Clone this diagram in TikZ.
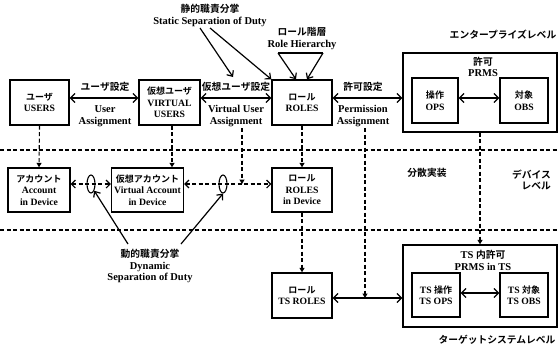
\documentclass[tikz,border=0pt]{standalone}
\usepackage{fontspec}
\setmainfont{Liberation Serif}
\newfontfamily\jpf{Noto Sans CJK JP}[BoldFont={* Bold},Scale=0.93]
\usetikzlibrary{arrows.meta,shapes.geometric,calc}
\newcommand{\J}[1]{{\jpf #1}}
\begin{document}
\begin{tikzpicture}[x=1pt,y=-1pt,
  box/.style={draw,line width=1.4pt,align=center,inner sep=1pt,font=\fontsize{9.7}{11.5}\selectfont\bfseries},
  lab/.style={align=center,inner sep=0pt,font=\fontsize{10.5}{11.5}\selectfont\bfseries},
  arr/.style={line width=1.2pt,{Straight Barb[length=4.5pt,width=9pt]}-{Straight Barb[length=4.5pt,width=9pt]}},
  sarr/.style={line width=1.2pt,-{Straight Barb[length=4.5pt,width=8pt]}},
  dline/.style={line width=1.1pt,dash pattern=on 4pt off 2.5pt},
  darr/.style={dline,-{Triangle[length=4.5pt,width=5pt]}},
  ddarr/.style={dline,{Straight Barb[length=4pt,width=8pt]}-{Straight Barb[length=4pt,width=8pt]}},
  oval/.style={draw,ellipse,line width=1.1pt,minimum width=8pt,minimum height=18pt,inner sep=0pt}]
\useasboundingbox (0,0) rectangle (559,349);

% level separators
\draw[dline] (0,150) -- (559,150);
\draw[dline] (0,230) -- (559,230);

% enterprise level
\node[box,minimum width=59pt,minimum height=45pt] (users) at (39.5,102.5) {\J{ユーザ}\\USERS};
\node[box,minimum width=61pt,minimum height=45pt] (vusers) at (169.5,102.5) {\J{仮想ユーザ}\\VIRTUAL\\USERS};
\node[box,minimum width=60pt,minimum height=45pt] (roles) at (302,102.5) {\J{ロール}\\ROLES};
\node[box,minimum width=154pt,minimum height=79pt] (prms) at (480,92.5) {};
\node[lab] (prmslab) at (483,67) {\J{許可}\\PRMS};
\node[box,minimum width=46pt,minimum height=45pt] (ops) at (435,100.5) {\J{操作}\\OPS};
\node[box,minimum width=48pt,minimum height=45pt] (obs) at (524,100.5) {\J{対象}\\OBS};

\draw[arr] ([yshift=4.5pt]users.east) -- ([yshift=4.5pt]vusers.west);
\draw[arr] ([yshift=4.5pt]vusers.east) -- ([yshift=4.5pt]roles.west);
\draw[arr] ([yshift=4.5pt]roles.east) -- ([yshift=-5.5pt]prms.west);
\draw[arr] ([yshift=2.5pt]ops.east) -- ([yshift=2.5pt]obs.west);

\node[lab] (ua) at (105,87) {\J{ユーザ設定}};
\node[lab] (uab) at (105,116) {User\\Assignment};
\node[lab] (va) at (236,87) {\J{仮想ユーザ設定}};
\node[lab] (vab) at (236,116) {Virtual User\\Assignment};
\node[lab] (pa) at (363,87) {\J{許可設定}};
\node[lab] (pab) at (363,116) {Permission\\Assignment};

% static SoD
\node[lab] (ssod) at (210,15.5) {\J{静的職責分掌}\\Static Separation of Duty};
\coordinate (s1) at (200,28);
\coordinate (s2) at (210,28);
\coordinate (s1e) at (233,77);
\draw[sarr] (s1) -- (s1e);
\draw[sarr] (s2) -- (roles.north west);

% role hierarchy
\node[lab] (rh) at (302,38.5) {\J{ロール階層}\\Role Hierarchy};
\coordinate (t1) at (278,53);
\coordinate (t2) at (323,53);
\draw[line width=1.2pt] (t1) -- (t2);
\draw[sarr] (t1) -- ([xshift=-6pt]roles.north);
\draw[sarr] (t2) -- ([xshift=5pt]roles.north);

\node[lab] (ent) at (503,35) {\J{エンタープライズレベル}};

% device level
\node[box,minimum width=62pt,minimum height=44pt] (acc) at (39,190) {\J{アカウント}\\Account\\in Device};
\node[box,minimum width=72pt,minimum height=44pt] (vacc) at (147.5,190) {\J{仮想アカウント}\\Virtual Account\\in Device};
\node[box,minimum width=60pt,minimum height=44pt] (rdev) at (302,190) {\J{ロール}\\ROLES\\in Device};

\draw[darr] (users.south) -- (acc.north);
\draw[darr] ([xshift=2.5pt]vusers.south) -- ([xshift=2.5pt]vusers.south |- vacc.north);
\draw[darr] (roles.south) -- (rdev.north);
\coordinate (vA) at (242,128);
\coordinate (vB) at (242,184);
\draw[darr] (vA) -- (vB);

\draw[ddarr] ([yshift=6pt]acc.east) -- ([yshift=6pt]vacc.west);
\draw[ddarr] ([yshift=6pt]vacc.east) -- ([yshift=6pt]rdev.west);
\node[oval] (e1) at (91,184) {};
\node[oval] (e2) at (223,184) {};

\node[lab] (dist) at (427,173) {\J{分散実装}};
\node[lab,anchor=east,align=right] (dev) at (551,180) {\J{デバイス}\\\J{レベル}};

% dynamic SoD
\node[lab] (dsod) at (150,266) {\J{動的職責分掌}\\Dynamic\\Separation of Duty};
\coordinate (d1) at (128,244);
\coordinate (d2) at (181,244);
\draw[sarr] (d1) -- (e1.south east);
\draw[sarr] (d2) -- (e2.south);

% target system level
\node[box,minimum width=60pt,minimum height=45pt] (tsroles) at (302,295.5) {\J{ロール}\\TS ROLES};
\node[box,minimum width=154pt,minimum height=82pt] (tsprms) at (480,286) {};
\node[lab] (tsprmslab) at (483,260.5) {TS \J{内許可}\\PRMS in TS};
\node[box,minimum width=48pt,minimum height=44pt] (tsops) at (436,295) {TS \J{操作}\\TS OPS};
\node[box,minimum width=48pt,minimum height=44pt] (tsobs) at (524,295) {TS \J{対象}\\TS OBS};

\draw[darr] (rdev.south) -- (tsroles.north);
\draw[darr] (prms.south) -- (tsprms.north);
\coordinate (pA) at (365,128);
\coordinate (pB) at (365,298);
\draw[darr] (pA) -- (pB);

\draw[arr] ([yshift=-2.5pt]tsroles.east) -- ([yshift=-12pt]tsprms.west);
\draw[arr] ([yshift=2pt]tsops.east) -- ([yshift=2pt]tsobs.west);

\node[lab] (tsl) at (497,340) {\J{ターゲットシステムレベル}};
\end{tikzpicture}
\end{document}
